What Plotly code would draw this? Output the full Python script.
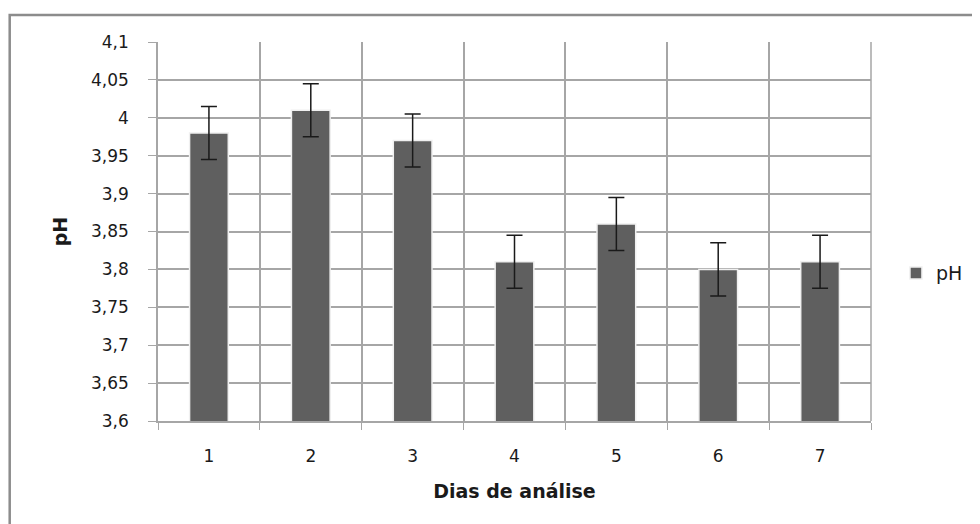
import plotly.graph_objects as go

days = ["1", "2", "3", "4", "5", "6", "7"]
ph_values = [3.98, 4.01, 3.97, 3.81, 3.86, 3.80, 3.81]
ph_errors = [0.035, 0.035, 0.035, 0.035, 0.035, 0.035, 0.035]
y_tickvals = [3.6, 3.65, 3.7, 3.75, 3.8, 3.85, 3.9, 3.95, 4.0, 4.05, 4.1]
y_ticktext = ["3,6", "3,65", "3,7", "3,75", "3,8", "3,85", "3,9", "3,95", "4", "4,05", "4,1"]

x_pos = list(range(1, len(days) + 1))
FONT = "DejaVu Sans"
GRID = "#a6a6a6"

fig = go.Figure()
fig.add_trace(go.Bar(
    x=x_pos, y=ph_values, name="pH", width=0.38,
    marker=dict(color="#5f5f5f", line=dict(color="#f0f0f0", width=1.5)),
    error_y=dict(type="data", array=ph_errors, visible=True,
                 color="#1a1a1a", thickness=1.5, width=8),
))

fig.update_layout(
    width=980, height=524,
    margin=dict(l=150, r=117, t=34, b=111),
    paper_bgcolor="white", plot_bgcolor="white",
    font=dict(family=FONT, size=17, color="#1a1a1a"),
    showlegend=True,
    legend=dict(x=1.035, y=0.39, xanchor="left", yanchor="middle",
                font=dict(size=19, color="#1a1a1a"), itemwidth=30),
    xaxis=dict(
        range=[0.5, 7.5], tickvals=x_pos, ticktext=days,
        showgrid=False, ticks="", zeroline=False,
        showline=True, linecolor=GRID, linewidth=1.5,
        mirror=False,
        minor=dict(tick0=0.5, dtick=1, showgrid=True, gridcolor=GRID,
                   gridwidth=1.5, ticks="outside", ticklen=7, tickcolor=GRID),
        tickfont=dict(size=17), ticklabelstandoff=19,
        title=dict(text="<b>Dias de análise</b>", font=dict(size=19), standoff=20),
    ),
    yaxis=dict(
        range=[3.6, 4.1], tickvals=y_tickvals, ticktext=y_ticktext,
        showgrid=True, gridcolor=GRID, gridwidth=1.5,
        ticks="outside", ticklen=8, tickcolor=GRID, zeroline=False,
        showline=True, linecolor=GRID, linewidth=1.5,
        tickfont=dict(size=17), ticklabelstandoff=16,
        title=dict(text="<b>pH</b>", font=dict(size=19), standoff=18),
    ),
    shapes=[
        dict(type="rect", xref="paper", yref="paper",
             x0=-0.208, x1=1.30, y0=-0.35, y1=1.071,
             line=dict(color="#8c8c8c", width=2.5), layer="above"),
        dict(type="line", xref="paper", yref="paper", x0=1, x1=1, y0=0, y1=1,
             line=dict(color=GRID, width=1.5)),
    ],
)

fig.write_html("out.html")
